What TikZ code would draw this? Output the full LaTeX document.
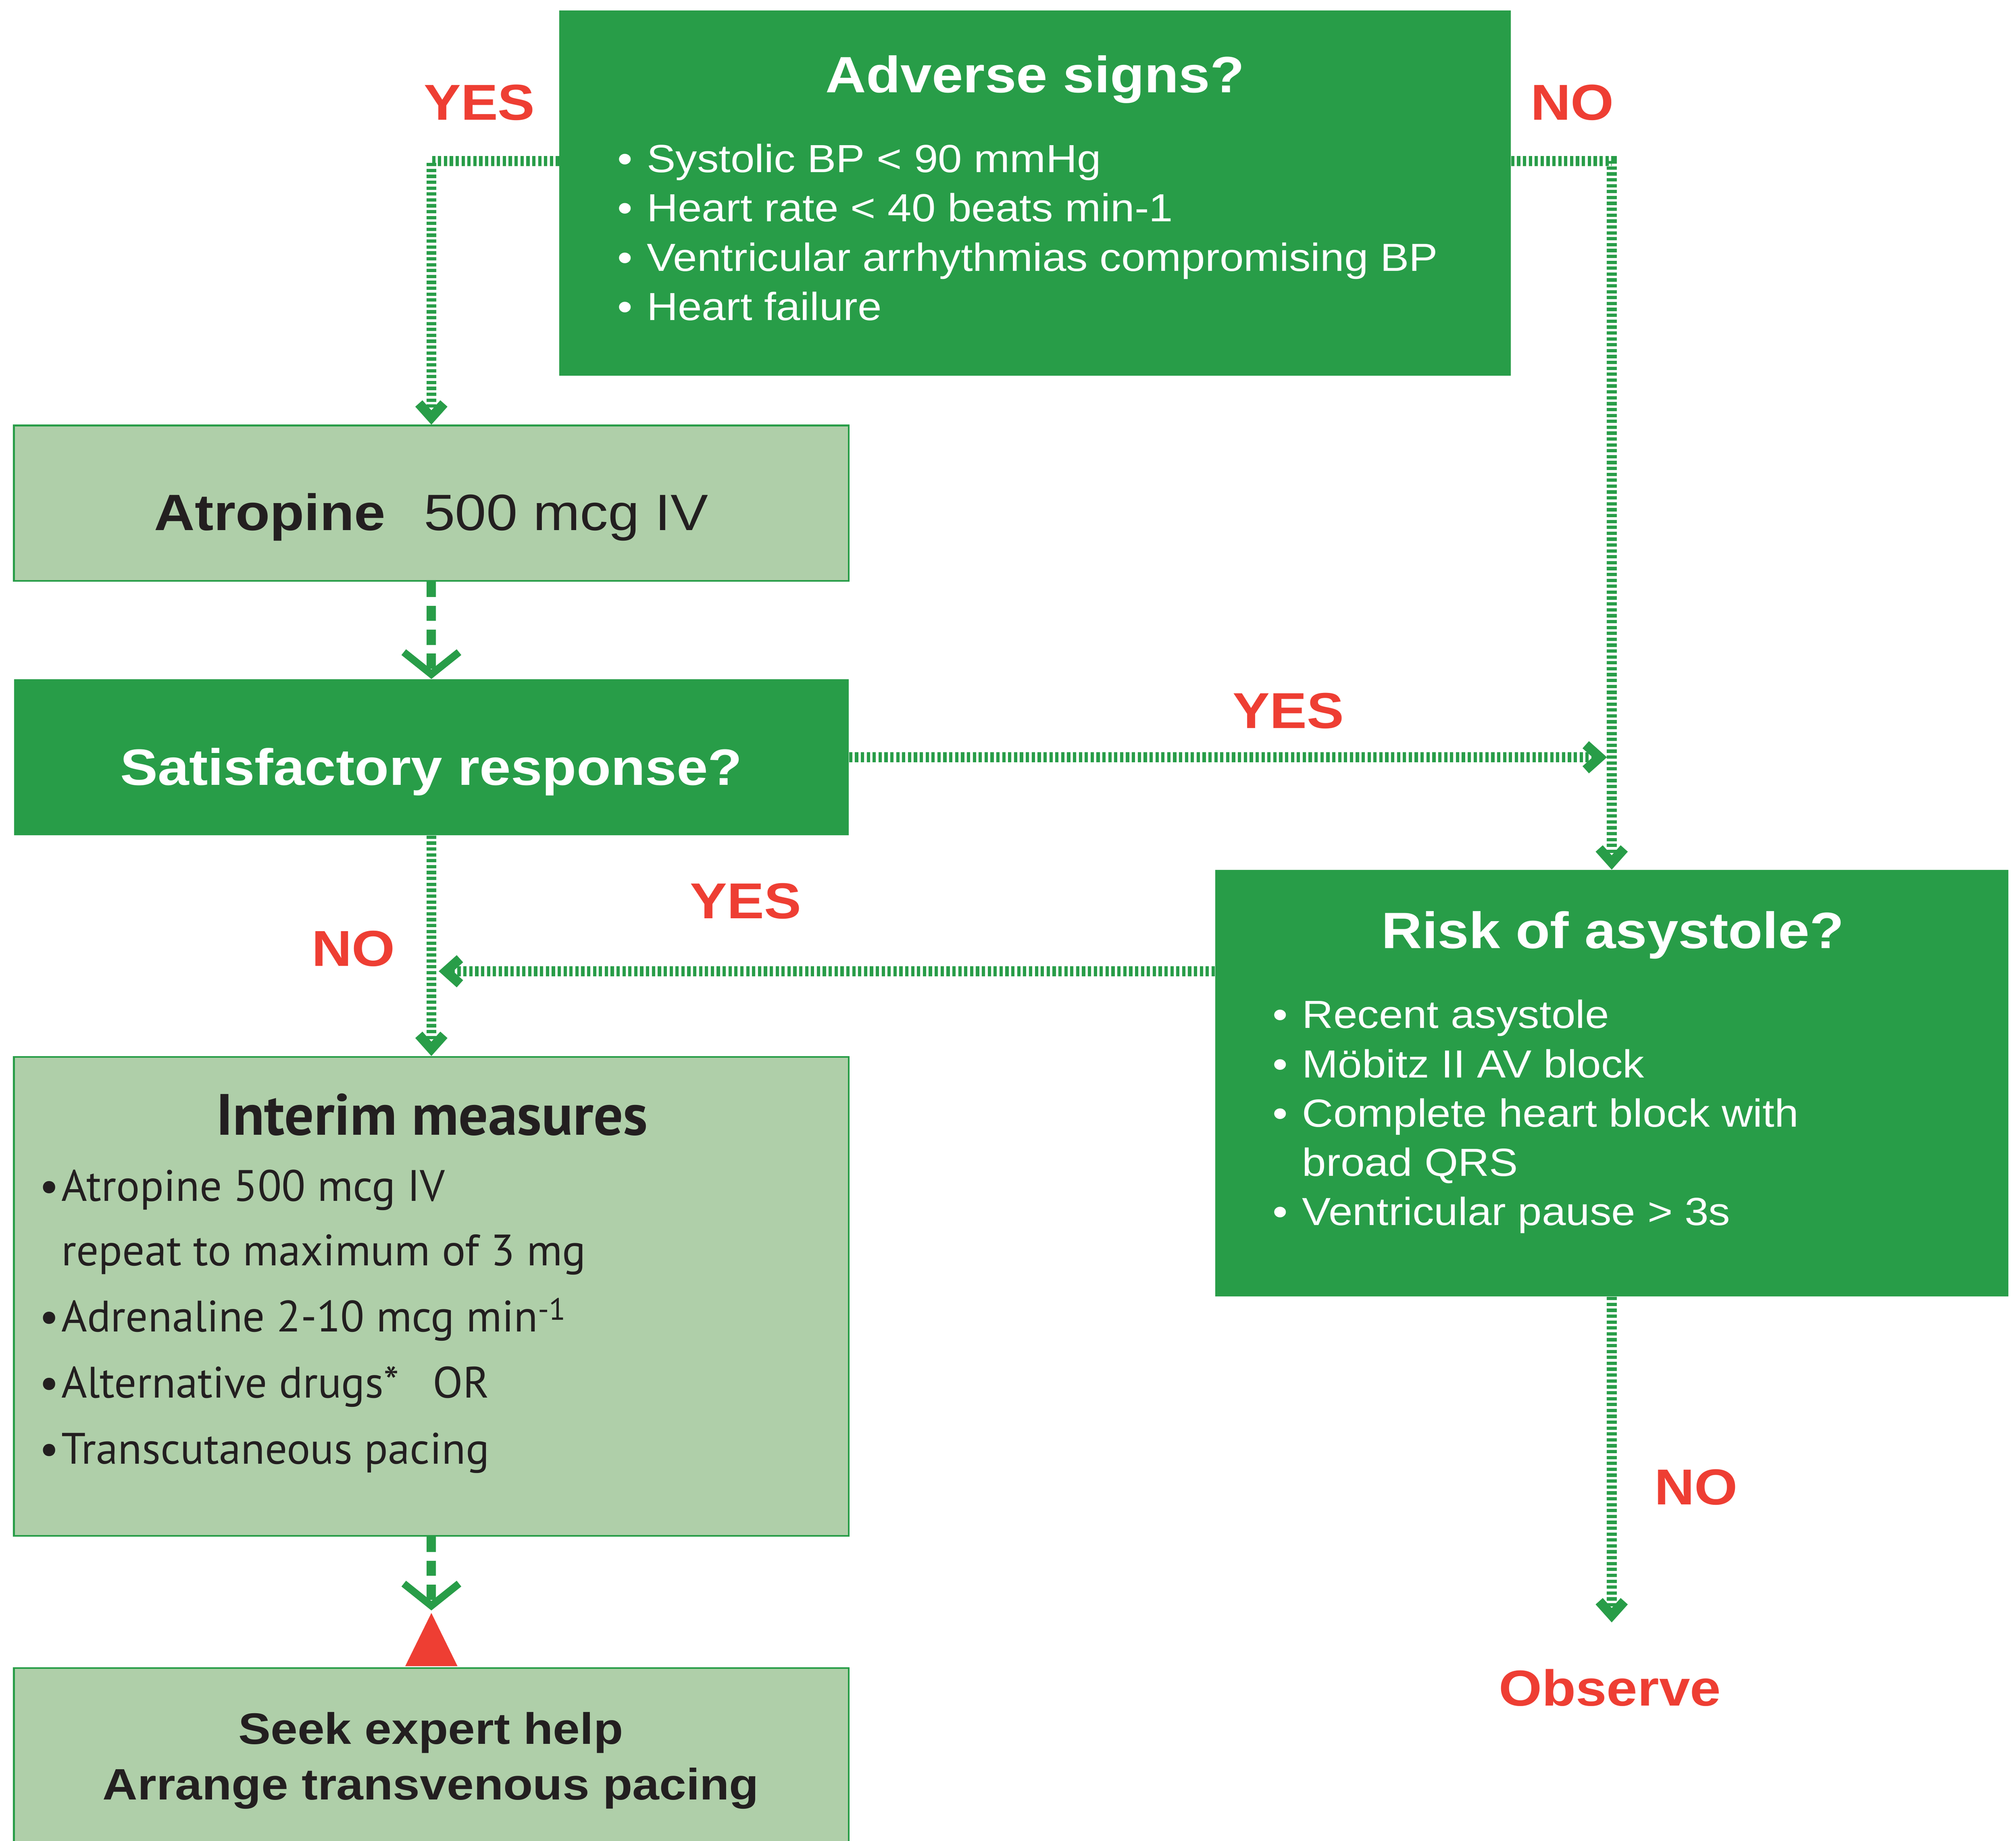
\documentclass[tikz,border=0pt]{standalone}
\usepackage{fontspec}
\setmainfont[FakeStretch=1.1]{Liberation Sans}
\newfontfamily\interimfont{PT Sans}
\usetikzlibrary{arrows.meta,calc}

\definecolor{rcgreen}{RGB}{40,157,72}
\definecolor{rclight}{RGB}{175,207,169}
\definecolor{rcred}{RGB}{238,62,51}
\definecolor{rctext}{RGB}{35,31,32}

\newcommand{\itm}[1]{\makebox[#1][l]{•}}

\begin{document}
\begin{tikzpicture}[x=1cm, y=-1cm,
	darkbox/.style={fill=rcgreen, inner sep=0pt},
	lightbox/.style={fill=rclight, draw=rcgreen, line width=0.05cm, inner sep=0pt},
	headtext/.style={text=white, font=\fontsize{39.5}{47}\selectfont\bfseries, anchor=base, inner sep=0pt},
	itemtext/.style={text=white, font=\fontsize{30.3}{36}\selectfont, anchor=base west, inner sep=0pt},
	interimtext/.style={text=rctext, font=\interimfont\fontsize{34}{40}\selectfont, anchor=base west, inner sep=0pt},
	answer/.style={text=rcred, font=\fontsize{39}{47}\selectfont\bfseries, inner sep=0pt},
	dotline/.style={rcgreen, line width=0.27cm, dash pattern=on 0.09cm off 0.07cm,
		-{Straight Barb[length=0.38cm, width=0.68cm, line width=0.26cm]}},
	dashline/.style={rcgreen, line width=0.25cm, dash pattern=on 0.41cm off 0.24cm,
		-{Straight Barb[length=0.6cm, width=1.5cm, line width=0.2cm]}}]
		\useasboundingbox (0,0) rectangle (54.75,50);

		% Adverse signs
		\node[darkbox, minimum width=25.84cm, minimum height=9.92cm] (Adverse) at (28.11,5.24) {};
		\node[headtext] (AdverseTitle) at (28.11,2.51) {Adverse signs?};
		\foreach \y/\txt [count=\i] in {4.68/Systolic BP < 90 mmHg, 6.02/Heart rate < 40 beats min-1,
			7.36/Ventricular arrhythmias compromising BP, 8.70/Heart failure}
			\node[itemtext] (AdverseItem\i) at (16.76,\y) {\itm{0.8cm}\txt};

		% Atropine, Satisfactory response
		\node[lightbox, minimum width=22.67cm, minimum height=4.22cm] (Atropine) at (11.715,13.67) {};
		\node[headtext, text=rctext] (AtropineText) at (11.715,14.40) {Atropine\hspace{0.75em}\mdseries 500 mcg IV};
		\node[darkbox, minimum width=22.67cm, minimum height=4.24cm] (Satisf) at (11.715,20.57) {};
		\node[headtext] (SatisfText) at (11.715,21.32) {Satisfactory response?};

		% Risk of asystole
		\node[darkbox, minimum width=21.54cm, minimum height=11.59cm] (Risk) at (43.77,29.425) {};
		\node[headtext] (RiskTitle) at (43.80,25.76) {Risk of asystole?};
		\foreach \y/\txt [count=\i] in {27.93/\itm{0.8cm}Recent asystole, 29.27/\itm{0.8cm}Möbitz II AV block,
			30.61/\itm{0.8cm}Complete heart block with, 31.95/\hspace*{0.8cm}broad QRS,
			33.28/\itm{0.8cm}Ventricular pause > 3s}
			\node[itemtext] (RiskItem\i) at (34.56,\y) {\txt};

		% Interim measures
		\node[lightbox, minimum width=22.67cm, minimum height=13.01cm] (Interim) at (11.715,35.215) {};
		\node[headtext, text=rctext, font=\interimfont\fontsize{45}{52}\selectfont\bfseries] (InterimTitle) at (11.73,30.83) {Interim measures};
		\foreach \y/\txt [count=\i] in {32.62/\itm{0.6cm}Atropine 500 mcg IV, 34.38/\hspace*{0.6cm}repeat to maximum of 3 mg,
			36.17/\itm{0.6cm}Adrenaline 2-10 mcg min\textsuperscript{-1}, 37.97/\itm{0.6cm}Alternative drugs*\hspace{0.5em} OR,
			39.76/\itm{0.6cm}Transcutaneous pacing}
			\node[interimtext] (InterimItem\i) at (1.06,\y) {\txt};

		% Seek expert help
		\node[lightbox, minimum width=22.67cm, minimum height=4.8cm] (Seek) at (11.715,47.71) {};
		\node[headtext, text=rctext, font=\fontsize{34}{42}\selectfont\bfseries] (SeekLine1) at (11.70,47.37) {Seek expert help};
		\node[headtext, text=rctext, font=\fontsize{34}{42}\selectfont\bfseries] (SeekLine2) at (11.70,48.89) {Arrange transvenous pacing};
		\fill[rcred] ([xshift=-0.71cm, yshift=0.025cm]Seek.north) -- ([yshift=1.47cm]Seek.north) -- ([xshift=0.71cm, yshift=0.025cm]Seek.north) -- cycle;

		% answers
		\node[answer] (YesAtropine) at (13.02,2.79) {YES};
		\node[answer] (NoRisk) at (42.70,2.79) {NO};
		\node[answer] (YesSatisf) at (34.99,19.31) {YES};
		\node[answer] (YesRisk) at (20.25,24.48) {YES};
		\node[answer] (NoSatisf) at (9.60,25.77) {NO};
		\node[answer] (NoObserve) at (46.06,40.40) {NO};
		\node[answer] (Observe) at (43.72,45.85) {Observe};

		% connectors
		\coordinate (RiskOut) at ([yshift=-2.76cm]Risk.north west);
		\coordinate (JoinR) at ($(Risk.north |- Satisf.east)+(-0.13,0)$);
		\coordinate (JoinL) at ($(Satisf.south |- RiskOut)+(0.2,0)$);
		\coordinate (ObserveTip) at (Risk.south |- 0,44.07);
		\draw[dotline] ([yshift=-4.1cm]Adverse.north west) -| (Atropine.north);
		\draw[dotline] ([yshift=-4.1cm]Adverse.north east) -| (Risk.north);
		\draw[dashline] (Atropine.south) -- (Satisf.north);
		\draw[dotline] (Satisf.east) -- (JoinR);
		\draw[dotline] (Satisf.south) -- (Interim.north);
		\draw[dotline] (RiskOut) -- (JoinL);
		\draw[dashline] (Interim.south) -- ([yshift=1.54cm]Seek.north);
		\draw[dotline] (Risk.south) -- (ObserveTip);

	\end{tikzpicture}
\end{document}
